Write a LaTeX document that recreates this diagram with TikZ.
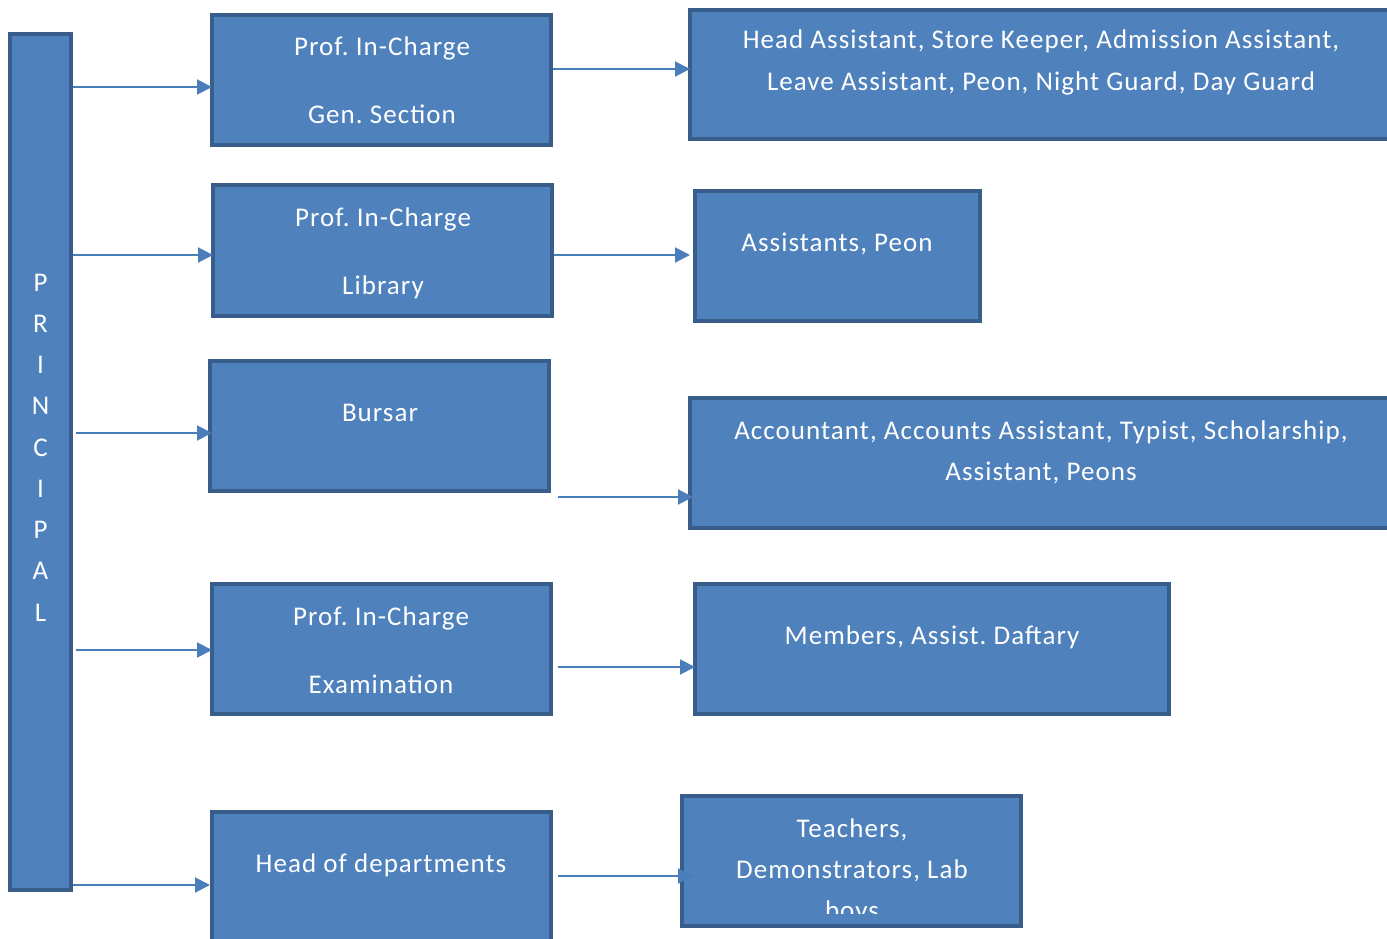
\documentclass[tikz,border=0pt]{standalone}
\usepackage{fontspec}
\setmainfont[LetterSpace=3.9]{Carlito}
\usetikzlibrary{arrows.meta}
\definecolor{boxblue}{HTML}{4F81BD}
\definecolor{boxedge}{HTML}{385D8A}
\definecolor{linkblue}{HTML}{4A7EBB}
\tikzset{
  orgbox/.style={draw=boxedge, fill=boxblue, line width=4pt, rectangle, inner sep=0pt, anchor=north west},
  boxtext/.style={text=white, font=\fontsize{27}{42}\selectfont, anchor=base, inner sep=0pt},
  link/.style={draw=linkblue, line width=2pt, -{Triangle[length=15pt,width=15pt]}}
}
\frenchspacing
\begin{document}
\begin{tikzpicture}[x=1pt, y=-1pt]
\useasboundingbox (0,0) rectangle (1387,939);
\clip (0,0) rectangle (1387,939);
% principal column
\node[orgbox, minimum width=61pt, minimum height=856pt] (principal) at (8,32) {};
\foreach \ch [count=\i from 0] in {P,R,I,N,C,I,P,A,L}
  \node[boxtext] (pr\i) at ({40.5},{291+41.25*\i}) {\ch};
% middle column
\node[orgbox, minimum width=339pt, minimum height=130pt] (gen) at (210,13) {};
\node[orgbox, minimum width=339pt, minimum height=131pt] (lib) at (211,183) {};
\node[orgbox, minimum width=339pt, minimum height=130pt] (bursar) at (208,359) {};
\node[orgbox, minimum width=339pt, minimum height=130pt] (exam) at (210,582) {};
\node[orgbox, minimum width=339pt, minimum height=150pt] (hod) at (210,810) {};
% right column
\node[orgbox, minimum width=710pt, minimum height=129pt] (staff) at (688,8) {};
\node[orgbox, minimum width=285pt, minimum height=130pt] (assist) at (693,189) {};
\node[orgbox, minimum width=710pt, minimum height=130pt] (accts) at (688,396) {};
\node[orgbox, minimum width=474pt, minimum height=130pt] (members) at (693,582) {};
\node[orgbox, minimum width=339pt, minimum height=130pt] (teach) at (680,794) {};
% texts
\node[boxtext] (gen-a) at (382,56) {Prof. In-Charge};
\node[boxtext] (gen-b) at (382,124) {Gen. Section};
\node[boxtext] (lib-a) at (383,226) {Prof. In-Charge};
\node[boxtext] (lib-b) at (383,294) {Library};
\node[boxtext] (bursar-a) at (380,421) {Bursar};
\node[boxtext] (exam-a) at (381,625) {Prof. In-Charge};
\node[boxtext] (exam-b) at (381,693) {Examination};
\node[boxtext] (hod-a) at (381,872) {Head of departments};
\node[boxtext] (staff-a) at (1041,49) {Head Assistant, Store Keeper, Admission Assistant,};
\node[boxtext] (staff-b) at (1041,91) {Leave Assistant, Peon, Night Guard, Day Guard};
\node[boxtext] (assist-a) at (837,251) {Assistants, Peon};
\node[boxtext] (accts-a) at (1041,439) {Accountant, Accounts Assistant, Typist, Scholarship,};
\node[boxtext] (accts-b) at (1041,480) {Assistant, Peons};
\node[boxtext] (members-a) at (932,644) {Members, Assist. Daftary};
\begin{scope}
  \clip ([shift={(2pt,-2pt)}]teach.north west) rectangle ([shift={(-2pt,15pt)}]teach.south east);
  \node[boxtext] (teach-a) at (852,837) {Teachers,};
  \node[boxtext] (teach-b) at (852,878) {Demonstrators, Lab};
  \node[boxtext] (teach-c) at (852,919) {boys};
\end{scope}
% connectors
\draw[link, shorten >=-2pt] (principal.east |- 0,87) -- (gen.west |- 0,87);
\draw[link, shorten >=-2pt] (principal.east |- 0,255) -- (lib.west |- 0,255);
\draw[link, shorten <=3pt, shorten >=-4pt] (principal.east |- 0,433) -- (bursar.west |- 0,433);
\draw[link, shorten <=3pt, shorten >=-2pt] (principal.east |- 0,650) -- (exam.west |- 0,650);
\draw[link] (principal.east |- 0,885) -- (hod.west |- 0,885);
\draw[link, shorten >=-2pt] (gen.east |- 0,69) -- (staff.west |- 0,69);
\draw[link, shorten >=3pt] (lib.east |- 0,255) -- (assist.west |- 0,255);
\draw[link, shorten <=7pt, shorten >=-5pt] (bursar.east |- 0,497) -- (accts.west |- 0,497);
\draw[link, shorten <=5pt, shorten >=-2pt] (exam.east |- 0,667) -- (members.west |- 0,667);
\draw[link, shorten <=5pt, shorten >=-13pt] (hod.east |- 0,876) -- (teach.west |- 0,876);
\end{tikzpicture}
\end{document}
